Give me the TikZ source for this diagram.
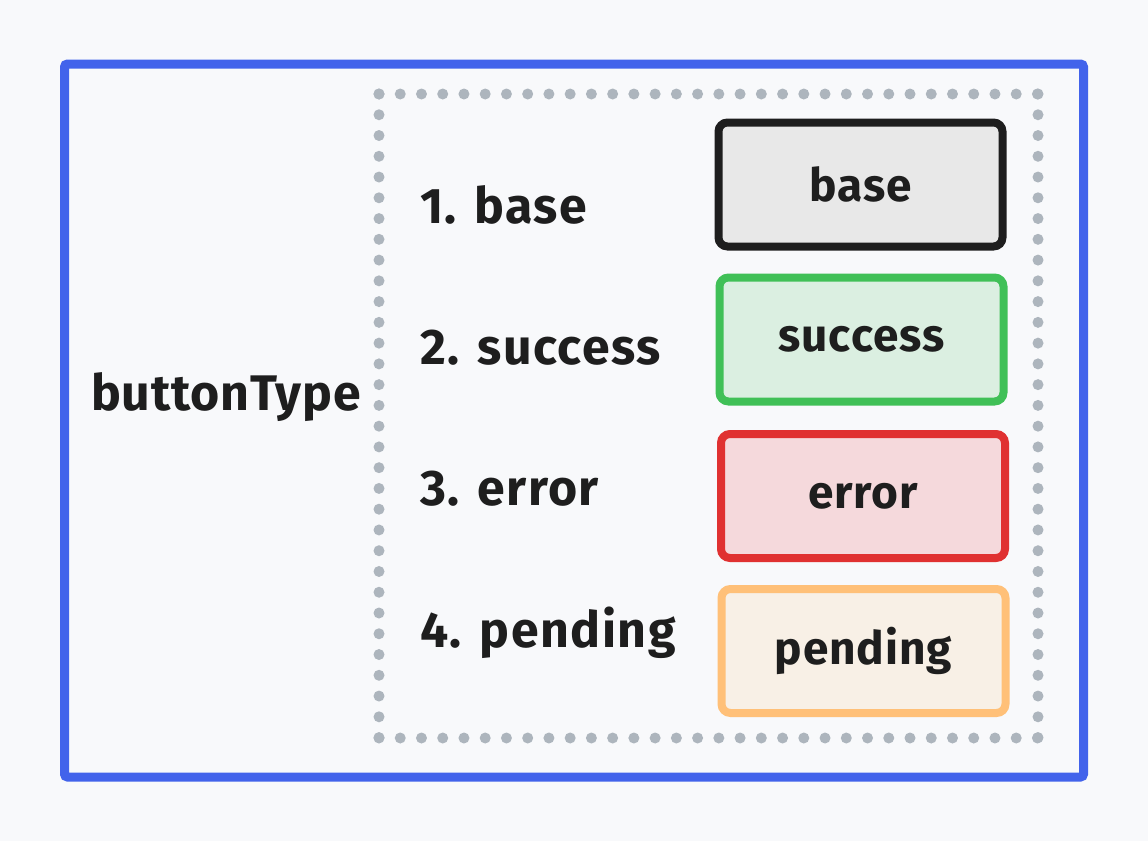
\documentclass[tikz,border=0pt]{standalone}
\usepackage{fontspec}
\setmainfont{Fira Sans}
\newfontfamily\lblfont[LetterSpace=3]{Fira Sans}
\newfontfamily\ttlfont[LetterSpace=1.5]{Fira Sans}
\newfontfamily\btnfont[LetterSpace=2]{Fira Sans}
\definecolor{bgc}{HTML}{F8F9FB}
\definecolor{frameblue}{HTML}{4263EB}
\definecolor{dotgray}{HTML}{ADB5BD}
\definecolor{ink}{HTML}{1E1E1E}
\definecolor{basefill}{HTML}{E8E8E8}
\definecolor{okline}{HTML}{40C057}
\definecolor{okfill}{HTML}{DBEFE1}
\definecolor{errline}{HTML}{E03131}
\definecolor{errfill}{HTML}{F5D9DC}
\definecolor{penline}{HTML}{FFC078}
\definecolor{penfill}{HTML}{F8F0E6}
\tikzset{
  lbl/.style={text=ink, inner sep=0pt, font=\lblfont\bfseries\fontsize{50bp}{58bp}\selectfont},
  ttl/.style={text=ink, inner sep=0pt, font=\ttlfont\bfseries\fontsize{50bp}{58bp}\selectfont},
  btn/.style={line width=8bp, rounded corners=9bp, text=ink, inner sep=0pt,
    minimum width=284bp, minimum height=124bp, font=\btnfont\bfseries\fontsize{46bp}{54bp}\selectfont},
  dots/.style={dotgray, line width=11bp, line cap=round}
}
\begin{document}
\begin{tikzpicture}[x=1bp,y=-1bp]
\fill[bgc] (0,0) rectangle (1148,841);
\useasboundingbox (0,0) rectangle (1148,841);
% outer frame
\draw[frameblue, line width=9bp, rounded corners=3bp] (64.5,64) rectangle (1083.5,777);
% dotted group
\draw[dots, dash pattern=on 0bp off 21.24bp] (379,94) -- (1038,94);
\draw[dots, dash pattern=on 0bp off 21.24bp] (379,738) -- (1038.2,738);
\draw[dots, dash pattern=on 0bp off 20.76bp] (379,94) -- (379,738);
\draw[dots, dash pattern=on 0bp off 20.76bp] (1038,94) -- (1038,738.2);
% title
\node[ttl, anchor=base] (title) at (226,410) {buttonType};
% left list
\node[lbl, anchor=base west] (l1) at (420,223) {1. base};
\node[lbl, anchor=base west] (l2) at (420,364) {2. success};
\node[lbl, anchor=base west] (l3) at (420,505) {3. error};
\node[lbl, anchor=base west] (l4) at (420,647) {4. pending};
% buttons
\node[btn, draw=ink, fill=basefill] (b1) at (860.5,184.5) {base};
\node[btn, draw=okline, fill=okfill] (b2) at (861.5,339.5) {success};
\node[btn, draw=errline, fill=errfill] (b3) at (863,496) {error};
\node[btn, draw=penline, fill=penfill] (b4) at (863.5,651) {pending};
\end{tikzpicture}
\end{document}
